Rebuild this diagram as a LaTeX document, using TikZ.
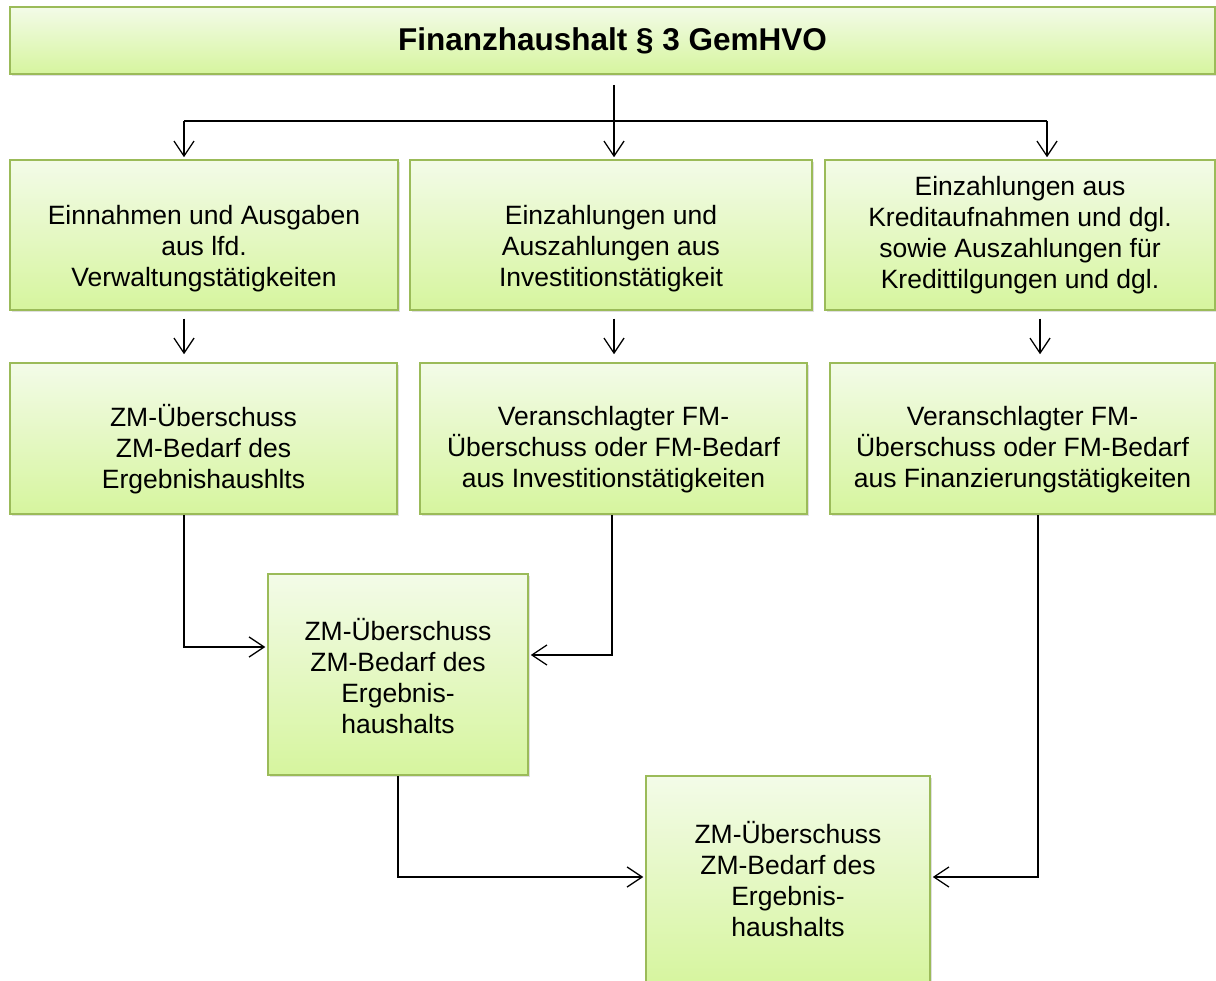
\documentclass[tikz,border=0pt]{standalone}
\usepackage{fontspec}
\setmainfont{Liberation Sans}
\usetikzlibrary{arrows.meta,shadows,calc}
\definecolor{bordergreen}{RGB}{155,187,89}
\definecolor{filltop}{RGB}{243,251,232}
\definecolor{fillbot}{RGB}{214,245,158}
\tikzset{
  box/.style={draw=bordergreen, line width=1.5pt, top color=filltop, bottom color=fillbot,
    drop shadow={opacity=0.25, shadow xshift=2pt, shadow yshift=-2pt}, inner sep=0pt},
  txt/.style={align=center, font=\fontsize{26.5}{31}\selectfont, inner sep=0pt},
  arr/.style={-{Straight Barb[length=15pt,width=20pt,line width=1.3pt]}, line width=1.3pt},
  conn/.style={line width=1.3pt}
}
\begin{document}
\begin{tikzpicture}[x=1pt,y=-1pt]
\useasboundingbox (0,0) rectangle (1216,981);
\fill[white] (0,0) rectangle (1216,981);
% title
\node[box, minimum width=1205pt, minimum height=67pt,
  label={[txt, font=\fontsize{31.5}{36}\selectfont\bfseries, yshift=0pt]center:{Finanzhaushalt § 3 GemHVO}}] (title) at (612.5,40.5) {};
% row 1
\node[box, minimum width=388pt, minimum height=150pt,
  label={[txt, yshift=-14pt]center:{Einnahmen und Ausgaben\\aus lfd.\\Verwaltungstätigkeiten}}] (b1) at (204,235) {};
\node[box, minimum width=402pt, minimum height=150pt,
  label={[txt, yshift=-14pt]center:{Einzahlungen und\\Auszahlungen aus\\Investitionstätigkeit}}] (b2) at (611,235) {};
\node[box, minimum width=390pt, minimum height=150pt,
  label={[txt, yshift=0pt]center:{Einzahlungen aus\\Kreditaufnahmen und dgl.\\sowie Auszahlungen für\\Kredittilgungen und dgl.}}] (b3) at (1020,235) {};
% row 2
\node[box, minimum width=387pt, minimum height=151pt,
  label={[txt, yshift=-11pt]center:{ZM-Überschuss\\ZM-Bedarf des\\Ergebnishaushlts}}] (b4) at (203.5,438.5) {};
\node[box, minimum width=387pt, minimum height=151pt,
  label={[txt, yshift=-11pt]center:{Veranschlagter FM-\\Überschuss oder FM-Bedarf\\aus Investitionstätigkeiten}}] (b5) at (613.5,438.5) {};
\node[box, minimum width=385pt, minimum height=151pt,
  label={[txt, yshift=-11pt]center:{Veranschlagter FM-\\Überschuss oder FM-Bedarf\\aus Finanzierungstätigkeiten}}] (b6) at (1022.5,438.5) {};
% row 3
\node[box, minimum width=260pt, minimum height=201pt,
  label={[txt, yshift=-2pt]center:{ZM-Überschuss\\ZM-Bedarf des\\Ergebnis-\\haushalts}}] (b7) at (398,674.5) {};
\node[box, minimum width=284pt, minimum height=210pt,
  label={[txt, yshift=2pt]center:{ZM-Überschuss\\ZM-Bedarf des\\Ergebnis-\\haushalts}}] (b8) at (788,881) {};
% connectors top
\coordinate (top) at (614,85);
\coordinate (hl) at (184,121);
\coordinate (hr) at (1047,121);
\draw[conn] (hl) -- (hr);
\draw[arr] (top) -- ([yshift=2pt]top |- b2.north);
\draw[arr] (hl) -- ([yshift=2pt]hl |- b1.north);
\draw[arr] (hr) -- ([yshift=2pt]hr |- b3.north);
% row1 -> row2
\draw[arr] ([xshift=-20pt,yshift=-8pt]b1.south) -- ([xshift=-19.5pt,yshift=8pt]b4.north);
\draw[arr] ([xshift=3pt,yshift=-8pt]b2.south) -- ([xshift=0.5pt,yshift=8pt]b5.north);
\draw[arr] ([xshift=20pt,yshift=-8pt]b3.south) -- ([xshift=17.5pt,yshift=8pt]b6.north);
% row2 -> b7, b8
\draw[arr] ([xshift=-19.5pt]b4.south) |- ([xshift=-2pt,yshift=27.5pt]b7.west);
\draw[arr] ([xshift=-1.5pt]b5.south) |- ([xshift=2pt,yshift=19.5pt]b7.east);
\draw[arr] (b7.south) |- ([xshift=-2pt,yshift=4pt]b8.west);
\draw[arr] ([xshift=15.5pt]b6.south) |- ([xshift=2pt,yshift=4pt]b8.east);
\end{tikzpicture}
\end{document}
